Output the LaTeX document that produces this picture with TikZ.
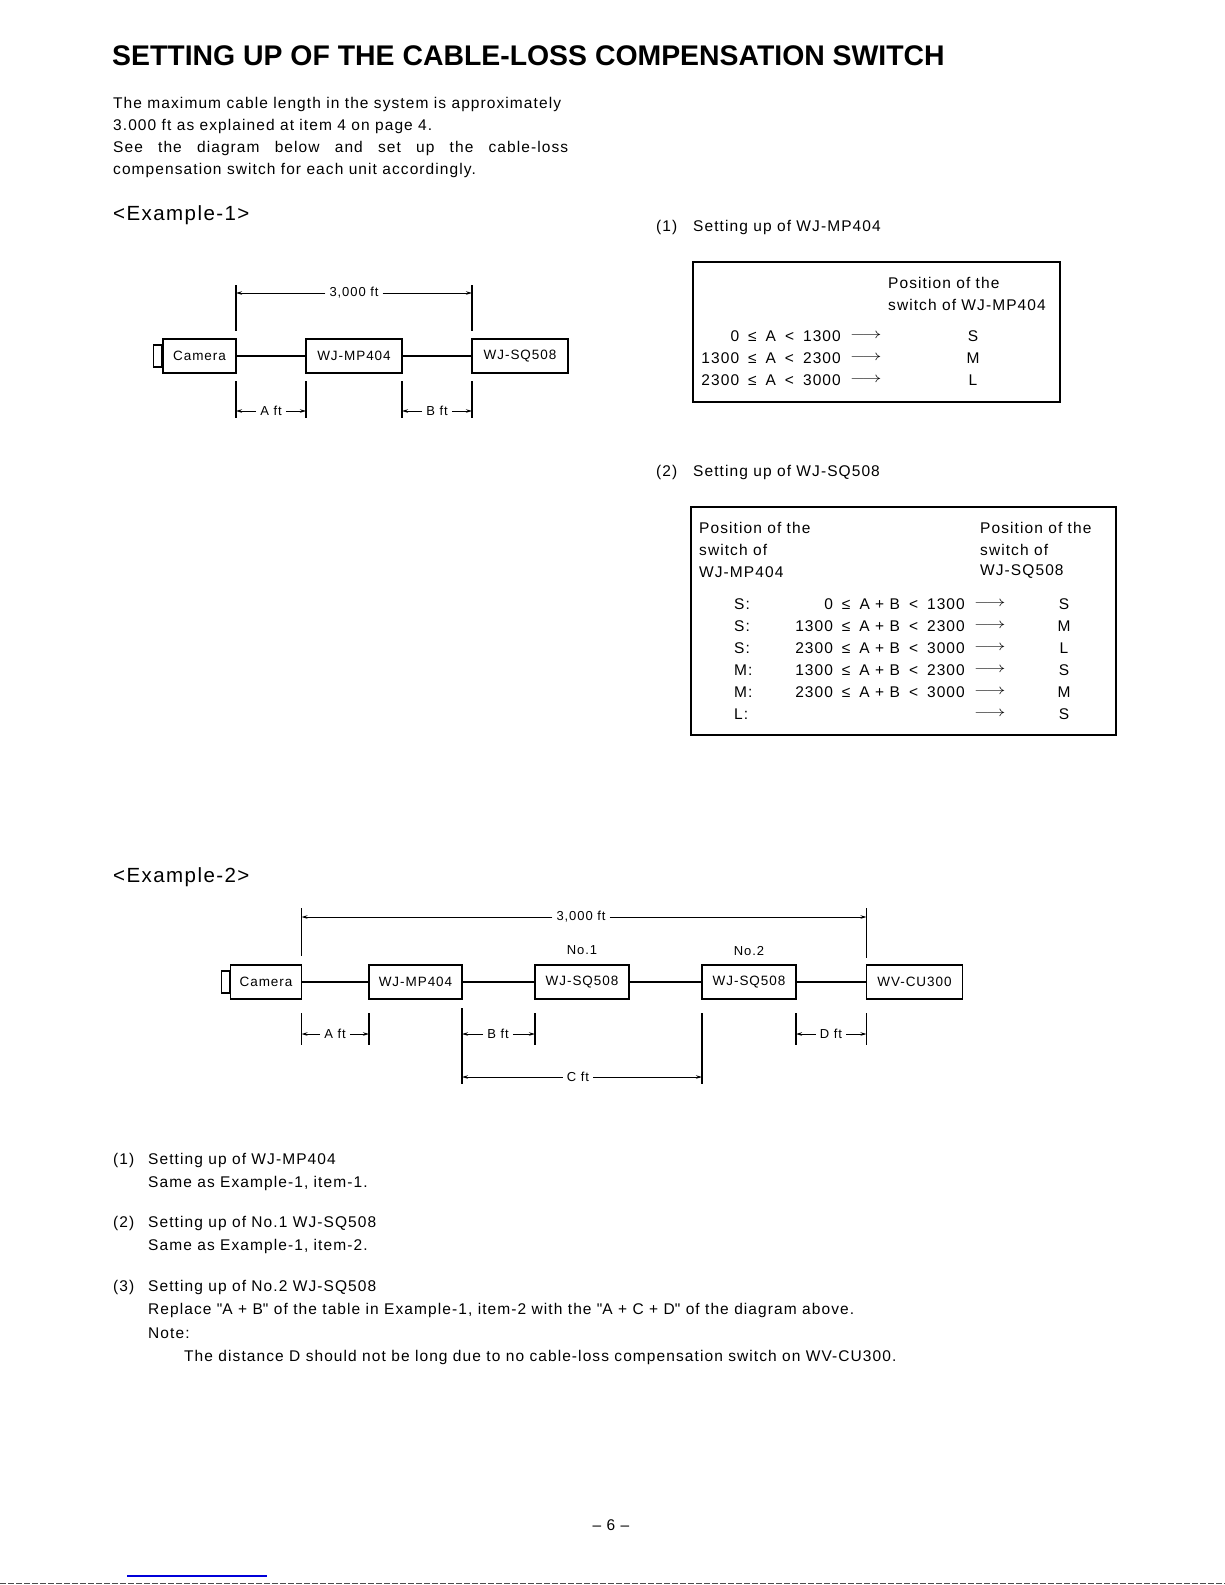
\documentclass[tikz,border=0pt]{standalone}
\usepackage{fontspec}
\setmainfont{Liberation Sans}[LetterSpace=7]
\newfontfamily\titlefont{Liberation Sans}
\usetikzlibrary{arrows.meta}
\newcommand\gp{\hspace{9pt}}
\newcommand\arr{\scalebox{1.35}[1]{$\longrightarrow$}}
\newcommand\dq{{\titlefont\symbol{34}}}
\tikzset{
  txt/.style={inner sep=0pt, anchor=west, font=\fontsize{15.5}{18}\selectfont},
  box/.style={draw, line width=1.1pt, minimum height=34pt, inner sep=0pt, font=\fontsize{13.5}{16}\selectfont},
  lens/.style={draw, line width=1.1pt, inner sep=0pt, minimum width=8pt, minimum height=22pt},
  wire/.style={line width=1.1pt},
  ext/.style={line width=1.1pt},
  dim/.style={line width=0.9pt, -{Stealth[length=6pt,width=3.5pt]}},
  dlab/.style={inner xsep=4pt, inner ysep=1pt, font=\fontsize{13}{15}\selectfont},
  tbl/.style={draw, line width=1.1pt},
  cell/.style={inner sep=0pt, font=\fontsize{15.5}{18}\selectfont},
}
\begin{document}
\begin{tikzpicture}[x=1pt,y=-1pt]
\useasboundingbox[fill=white] (0,0) rectangle (1225,1585);

% title and intro
\node[txt, font=\titlefont\fontsize{28.4}{30}\bfseries] (title) at (112,56) {SETTING UP OF THE CABLE-LOSS COMPENSATION SWITCH};
\node[txt] (i1) at (113,104) {The maximum cable length in the system is approximately};
\node[txt] (i2) at (113,126) {3.000 ft as explained at item 4 on page 4.};
\node[txt] (i3) at (113,148) {\makebox[455pt][s]{See the diagram below and set up the cable-loss}};
\node[txt] (i4) at (113,170) {compensation switch for each unit accordingly.};

\node[txt, font=\fontsize{20.5}{22}\selectfont] (ex1) at (113,215) {<Example-1>};

% ---------- Example 1 diagram ----------
\node[box, minimum width=73pt] (cam1) at (199.5,356) {Camera};
\node[lens, anchor=east] (lens1) at (cam1.west) {};
\node[box, minimum width=96pt] (mp1) at (354,356) {WJ-MP404};
\node[box, minimum width=96pt] (sq1) at (520,356) {WJ-SQ508};
\draw[wire] (cam1) -- (mp1);
\draw[wire] (mp1) -- (sq1);

\coordinate (t1a) at (236,293);
\coordinate (t1b) at (472,293);
\draw[ext] (236,285) -- (236,331);
\draw[ext] (472,285) -- (472,331);
\node[dlab] (l3000a) at (354,293) {3,000 ft};
\draw[dim] (l3000a) -- (t1a);
\draw[dim] (l3000a) -- (t1b);

\draw[ext] (236,381) -- (236,418);
\draw[ext] (306,381) -- (306,418);
\draw[ext] (402,381) -- (402,418);
\draw[ext] (472,381) -- (472,418);
\coordinate (a1l) at (236,411);
\coordinate (a1r) at (306,411);
\coordinate (b1l) at (402,411);
\coordinate (b1r) at (472,411);
\node[dlab] (la1) at (271,411) {A ft};
\node[dlab] (lb1) at (437,411) {B ft};
\draw[dim] (la1) -- (a1l);
\draw[dim] (la1) -- (a1r);
\draw[dim] (lb1) -- (b1l);
\draw[dim] (lb1) -- (b1r);

% ---------- Table 1 ----------
\node[txt] (n1) at (656,227) {(1)};
\node[txt] (h1) at (693,227) {Setting up of WJ-MP404};
\draw[tbl] (693,262) rectangle (1060,402);
\node[cell, anchor=west] (p1a) at (888,283) {Position of the};
\node[cell, anchor=west] (p1b) at (888,305) {switch of WJ-MP404};
\node[cell, anchor=east] (r1a) at (841,336) {0\gp≤\gp A\gp<\gp 1300};
\node[cell, anchor=east] (r1b) at (841,358) {1300\gp≤\gp A\gp<\gp 2300};
\node[cell, anchor=east] (r1c) at (841,380) {2300\gp≤\gp A\gp<\gp 3000};
\node[cell, anchor=west] (q1a) at (850,336) {\arr};
\node[cell, anchor=west] (q1b) at (850,358) {\arr};
\node[cell, anchor=west] (q1c) at (850,380) {\arr};
\node[cell] (v1a) at (973,336) {S};
\node[cell] (v1b) at (973,358) {M};
\node[cell] (v1c) at (973,380) {L};

% ---------- Table 2 ----------
\node[txt] (n2) at (656,472) {(2)};
\node[txt] (h2) at (693,472) {Setting up of WJ-SQ508};
\draw[tbl] (691,507) rectangle (1116,735);
\node[cell, anchor=west] (pl1) at (699,528) {Position of the};
\node[cell, anchor=west] (pl2) at (699,550) {switch of};
\node[cell, anchor=west] (pl3) at (699,572) {WJ-MP404};
\node[cell, anchor=west] (pr1) at (980,528) {Position of the};
\node[cell, anchor=west] (pr2) at (980,550) {switch of};
\node[cell, anchor=west] (pr3) at (980,572) {WJ-SQ508};
\foreach \y/\s/\c/\v [count=\i] in {
  604/S:/0\gp≤\gp A + B\gp<\gp 1300/S,
  626/S:/1300\gp≤\gp A + B\gp<\gp 2300/M,
  648/S:/2300\gp≤\gp A + B\gp<\gp 3000/L,
  670/M:/1300\gp≤\gp A + B\gp<\gp 2300/S,
  692/M:/2300\gp≤\gp A + B\gp<\gp 3000/M,
  714/L://S} {
  \node[cell, anchor=west] (s\i) at (734,\y) {\s};
  \node[cell, anchor=east] (c\i) at (965,\y) {\c};
  \node[cell, anchor=west] (g\i) at (974,\y) {\arr};
  \node[cell] (w\i) at (1064,\y) {\v};
}

% ---------- Example 2 ----------
\node[txt, font=\fontsize{20.5}{22}\selectfont] (ex2) at (113,877) {<Example-2>};

\node[box, minimum width=71pt] (cam2) at (266,982) {Camera};
\node[lens, anchor=east] (lens2) at (cam2.west) {};
\node[box, minimum width=93pt] (mp2) at (415.5,982) {WJ-MP404};
\node[box, minimum width=94pt] (sqa) at (582,982) {WJ-SQ508};
\node[box, minimum width=94pt] (sqb) at (749,982) {WJ-SQ508};
\node[box, minimum width=96pt] (cu) at (914.5,982) {WV-CU300};
\node[dlab] (no1) at (582,950) {No.1};
\node[dlab] (no2) at (749,951) {No.2};
\draw[wire] (cam2) -- (mp2);
\draw[wire] (mp2) -- (sqa);
\draw[wire] (sqa) -- (sqb);
\draw[wire] (sqb) -- (cu);

\draw[ext] (301.5,908) -- (301.5,956);
\draw[ext] (866.5,908) -- (866.5,958);
\coordinate (t2a) at (301.5,917);
\coordinate (t2b) at (866.5,917);
\node[dlab] (l3000b) at (581,917) {3,000 ft};
\draw[dim] (l3000b) -- (t2a);
\draw[dim] (l3000b) -- (t2b);

\draw[ext] (301.5,1013) -- (301.5,1045);
\draw[ext] (369,1013) -- (369,1045);
\draw[ext] (462,1008) -- (462,1084);
\draw[ext] (535,1013) -- (535,1045);
\draw[ext] (702,1013) -- (702,1084);
\draw[ext] (796,1013) -- (796,1045);
\draw[ext] (866.5,1013) -- (866.5,1045);
\coordinate (a2l) at (301.5,1034);
\coordinate (a2r) at (369,1034);
\coordinate (b2l) at (462,1034);
\coordinate (b2r) at (535,1034);
\coordinate (d2l) at (796,1034);
\coordinate (d2r) at (866.5,1034);
\coordinate (c2l) at (462,1077);
\coordinate (c2r) at (702,1077);
\node[dlab] (la2) at (335,1034) {A ft};
\node[dlab] (lb2) at (498,1034) {B ft};
\node[dlab] (ld2) at (831,1034) {D ft};
\node[dlab] (lc2) at (578,1077) {C ft};
\draw[dim] (la2) -- (a2l);
\draw[dim] (la2) -- (a2r);
\draw[dim] (lb2) -- (b2l);
\draw[dim] (lb2) -- (b2r);
\draw[dim] (ld2) -- (d2l);
\draw[dim] (ld2) -- (d2r);
\draw[dim] (lc2) -- (c2l);
\draw[dim] (lc2) -- (c2r);

% ---------- bottom text ----------
\node[txt] (b1n) at (113,1160) {(1)};
\node[txt] (b1a) at (148,1160) {Setting up of WJ-MP404};
\node[txt] (b1b) at (148,1183) {Same as Example-1, item-1.};
\node[txt] (b2n) at (113,1223) {(2)};
\node[txt] (b2a) at (148,1223) {Setting up of No.1 WJ-SQ508};
\node[txt] (b2b) at (148,1246) {Same as Example-1, item-2.};
\node[txt] (b3n) at (113,1287) {(3)};
\node[txt] (b3a) at (148,1287) {Setting up of No.2 WJ-SQ508};
\node[txt] (b3b) at (148,1310) {Replace \dq A + B\dq\ of the table in Example-1, item-2 with the \dq A + C + D\dq\ of the diagram above.};
\node[txt] (b3c) at (148,1333) {Note:};
\node[txt] (b3d) at (184,1357) {The distance D should not be long due to no cable-loss compensation switch on WV-CU300.};

\node[txt, anchor=center] (pg) at (611,1525) {-- 6 --};

% scan marks at the page foot
\draw[blue!85!black, line width=1.2pt] (127,1576) -- (267,1576);
\draw[black!70, line width=1.5pt, dash pattern=on 6pt off 2pt] (0,1583.5) -- (1225,1583.5);
\end{tikzpicture}
\end{document}
